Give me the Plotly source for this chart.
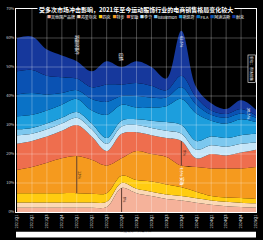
import plotly.graph_objects as go

quarters = ["2021Q1", "2021Q2", "2021Q3", "2021Q4", "2022Q1", "2022Q2", "2022Q3", "2022Q4",
            "2023Q1", "2023Q2", "2023Q3", "2023Q4", "2024Q1", "2024Q2", "2024Q3", "2024Q4", "2025Q1"]

brands = ["其他国产品牌", "鸿星尔克", "匹克", "特步", "安踏", "李宁",
          "lululemon", "斯凯奇", "FILA", "阿迪达斯", "耐克"]

peach  = [1.5, 1.5, 1.5, 1.5, 1.5, 1.5, 1.7, 8.3, 6.5, 5.5, 4.5, 4.0, 3.2, 2.5, 2.0, 1.7, 1.5]
cream  = [1.8, 1.8, 1.8, 1.8, 1.8, 1.8, 1.8, 1.7, 1.5, 1.5, 1.5, 1.5, 1.5, 1.5, 1.5, 1.5, 1.5]
yellow = [3.2, 3.2, 3.2, 3.2, 3.2, 3.0, 3.0, 2.5, 3.0, 3.5, 3.5, 3.0, 2.3, 1.5, 1.5, 1.6, 1.5]
orange = [8.0, 9.0, 10.5, 12.0, 12.8, 11.7, 9.5, 6.0, 10.0, 9.5, 9.5, 7.5, 8.5, 9.5, 10.0, 10.2, 11.0]
salmon = [9.0, 9.0, 9.0, 9.5, 10.7, 8.0, 5.0, 8.5, 6.5, 6.5, 6.5, 8.5, 3.0, 5.0, 4.5, 5.5, 6.0]
pale   = [3.0, 2.5, 2.5, 2.5, 2.5, 2.5, 2.5, 2.5, 2.5, 2.5, 2.5, 2.5, 3.0, 3.0, 3.0, 3.0, 2.5]
light  = [2.0, 2.0, 2.0, 2.0, 2.0, 2.0, 2.0, 2.0, 2.0, 2.5, 3.0, 3.0, 3.0, 3.0, 3.0, 3.0, 3.0]
cyan   = [4.5, 4.5, 4.5, 4.5, 4.5, 4.5, 8.0, 5.5, 4.0, 4.5, 5.5, 9.0, 9.5, 5.5, 5.0, 5.5, 4.0]
blue   = [7.5, 7.5, 5.5, 4.0, 3.0, 4.0, 4.5, 3.0, 4.0, 3.5, 3.0, 4.0, 3.0, 2.0, 2.0, 2.0, 1.5]
mid    = [8.0, 8.0, 6.5, 5.5, 4.0, 4.0, 6.0, 4.0, 4.5, 4.0, 2.5, 4.0, 2.5, 1.5, 1.3, 1.5, 0.8]
navy   = [11.5, 11.5, 9.0, 7.5, 6.0, 5.5, 8.0, 6.0, 7.5, 6.5, 4.0, 15.5, 3.5, 2.5, 1.7, 3.0, 2.0]

series = [peach, cream, yellow, orange, salmon, pale, light, cyan, blue, mid, navy]
colors = ["#F5B29A", "#FBD8B4", "#FFCC10", "#F59A1E", "#EE6E4E",
          "#C4E5F8", "#7CC8EF", "#1C9EDD", "#0A72C6", "#0A52B3", "#16389C"]

title = "受多次市场冲击影响，2021年至今运动服饰行业的电商销售格局变化较大"
source = "数据来源：久谦中台"
side_note = "单位：市场份额"
events = {4: "新疆棉事件", 7: "疫情"}

yticks = [0, 10, 20, 30, 40, 50, 60, 70]
FONT = "Noto Sans CJK SC"

fig = go.Figure()
xs = list(range(len(quarters)))
for name, vals, col in zip(brands, series, colors):
    fig.add_trace(go.Scatter(
        x=xs, y=vals, name=name, stackgroup="one", mode="lines",
        line=dict(width=0, shape="spline", smoothing=1.0, color=col),
        fillcolor=col, showlegend=False, hoverinfo="skip"))

# cumulative tops
cum = []
run = [0.0] * len(xs)
for vals in series:
    run = [a + b for a, b in zip(run, vals)]
    cum.append(run)
total = cum[-1]

shapes = []
# gridlines above traces
for t in yticks[1:-1]:
    shapes.append(dict(type="line", xref="paper", x0=0, x1=1, yref="y", y0=t, y1=t,
                       line=dict(color="rgba(255,255,255,0.35)", width=0.8), layer="above"))
for i in xs[1:-1]:
    shapes.append(dict(type="line", xref="x", x0=i, x1=i, yref="paper", y0=0, y1=1,
                       line=dict(color="rgba(255,255,255,0.35)", width=0.8), layer="above"))

# callout lines spanning single layers
def span(i, k):
    lo = cum[k - 1][i] if k > 0 else 0
    hi = cum[k][i]
    shapes.append(dict(type="line", xref="x", x0=i, x1=i, yref="y", y0=lo, y1=hi,
                       line=dict(color="#3a1a10", width=0.8), layer="above"))
    return lo, hi

annotations = []
for i, k in [(4, 3), (7, 0), (11, 4)]:
    lo, hi = span(i, k)
    annotations.append(dict(x=i + 0.25, y=(lo + hi) / 2, xref="x", yref="y",
                            text=f"{series[k][i]:.0f}%", textangle=90, showarrow=False,
                            font=dict(size=4, color="#3a1a10", family=FONT)))

annotations.append(dict(x=11, y=(cum[2][11] + cum[3][11]) / 2, xref="x", yref="y",
                        text=f"{orange[11]:.1f}% 安踏", textangle=90, showarrow=False,
                        font=dict(size=4, color="white", family=FONT)))
annotations.append(dict(x=11, y=total[11] - 4, xref="x", yref="y",
                        text=f"{total[11]:.1f}%", textangle=90, showarrow=False,
                        font=dict(size=4, color="white", family=FONT)))
annotations.append(dict(x=15.5, y=total[15] - 4.5, xref="x", yref="y",
                        text=f"{total[15]:.1f}%", textangle=90, showarrow=False,
                        font=dict(size=4, color="white", family=FONT)))
for i, txt in events.items():
    annotations.append(dict(x=i, y=total[i] + 1.5, xref="x", yref="y", yanchor="bottom",
                            text=txt, textangle=90, showarrow=False,
                            font=dict(size=4, color="white", family=FONT)))

# title over the frame
annotations.append(dict(x=0.5, y=1, xref="paper", yref="paper", yanchor="middle",
                        text=f"<b>{title}</b>",
                        showarrow=False, bgcolor="black", borderpad=1,
                        font=dict(size=6, color="white", family=FONT)))
# legend as text
leg = "  ".join(f"<span style='color:{c}'>■</span>{n}" for n, c in zip(brands, colors))
annotations.append(dict(x=0.54, y=0.962, xref="paper", yref="paper", yanchor="middle",
                        text=leg, showarrow=False,
                        font=dict(size=4, color="white", family=FONT)))
# side note
annotations.append(dict(x=1, y=0.775, xref="paper", yref="paper", text=side_note,
                        textangle=90, showarrow=False, bgcolor="black", bordercolor="white",
                        borderwidth=0.6, borderpad=1,
                        font=dict(size=3.5, color="white", family=FONT)))
# bottom source bar
shapes.append(dict(type="rect", xref="paper", yref="paper", x0=0, x1=1, y0=-0.125, y1=-0.097,
                   fillcolor="white", line=dict(width=0)))
annotations.append(dict(x=0.5, y=-0.111, xref="paper", yref="paper", text=source,
                        showarrow=False, font=dict(size=3.5, color="black", family=FONT)))

fig.update_layout(
    width=263, height=240,
    margin=dict(l=16, r=5, t=5, b=28),
    paper_bgcolor="black", plot_bgcolor="black",
    showlegend=False,
    shapes=shapes, annotations=annotations,
    font=dict(family=FONT, color="white"),
)
fig.update_xaxes(range=[-0.07, 16], tickmode="array", tickvals=xs, ticktext=quarters,
                 tickangle=-90, tickfont=dict(size=4, color="#dddddd"), showgrid=False,
                 showline=True, linecolor="white", linewidth=0.8, mirror=True,
                 layer="above traces", zeroline=False, ticks="")
fig.update_yaxes(range=[0, 70], tickvals=yticks, ticktext=[f"{t}%" for t in yticks],
                 tickfont=dict(size=4, color="#cccccc"), showgrid=False,
                 showline=True, linecolor="white", linewidth=0.8, mirror=True,
                 layer="above traces", zeroline=False, ticks="")

fig.write_html("out.html")
